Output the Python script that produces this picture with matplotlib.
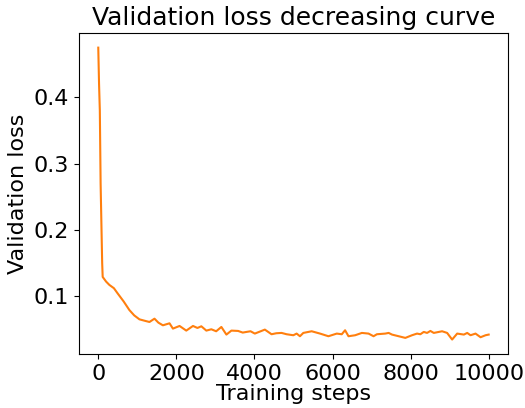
import matplotlib
matplotlib.use("Agg")
import matplotlib.pyplot as plt
import numpy as np

# validation loss values
steps = [0, 20, 40, 60, 80, 100, 113, 200, 283, 400, 498, 650, 797, 920, 1054,
         1180, 1311, 1440, 1540, 1655, 1825, 1912, 2082, 2254, 2426, 2540, 2640,
         2768, 2896, 3020, 3153, 3282, 3410, 3582, 3700, 3796, 3900, 4010, 4267,
         4438, 4560, 4695, 4824, 4996, 5081, 5166, 5252, 5466, 5680, 5895, 6109,
         6237, 6322, 6409, 6580, 6752, 6923, 7051, 7137, 7351, 7438, 7523, 7694,
         7865, 8036, 8165, 8250, 8337, 8422, 8507, 8594, 8807, 8936, 9064, 9193,
         9365, 9450, 9535, 9663, 9792, 9920, 10000]
loss = [0.475, 0.42, 0.38, 0.27, 0.21, 0.15, 0.129, 0.122, 0.117, 0.112, 0.104,
        0.092, 0.079, 0.071, 0.065, 0.063, 0.061, 0.066, 0.060, 0.056, 0.059,
        0.051, 0.055, 0.048, 0.055, 0.052, 0.0545, 0.048, 0.050, 0.047, 0.0535,
        0.042, 0.048, 0.0475, 0.045, 0.046, 0.047, 0.0435, 0.0495, 0.0425,
        0.044, 0.0445, 0.0425, 0.041, 0.0435, 0.0395, 0.0445, 0.047, 0.0435,
        0.0395, 0.0435, 0.0425, 0.0485, 0.0395, 0.041, 0.0445, 0.0435, 0.0395,
        0.0425, 0.0435, 0.0445, 0.042, 0.0395, 0.037, 0.041, 0.0435, 0.0425,
        0.046, 0.0445, 0.0475, 0.0445, 0.047, 0.0445, 0.0345, 0.0435, 0.042,
        0.0445, 0.041, 0.0435, 0.038, 0.041, 0.042]

fig = plt.figure(figsize=(5.25, 4.08), dpi=100)
ax = fig.add_axes([0.150, 0.132, 0.818, 0.787])
ax.plot(steps, loss, color='#ff7f0e', linewidth=1.5)

ax.set_title('Validation loss decreasing curve', fontsize=18)
ax.set_xlabel('Training steps', fontsize=16, labelpad=0)
ax.set_ylabel('Validation loss', fontsize=16)
ax.set_xticks([0, 2000, 4000, 6000, 8000, 10000])
ax.set_yticks([0.1, 0.2, 0.3, 0.4])
ax.tick_params(labelsize=16)

fig.savefig('out.png', dpi=100)
